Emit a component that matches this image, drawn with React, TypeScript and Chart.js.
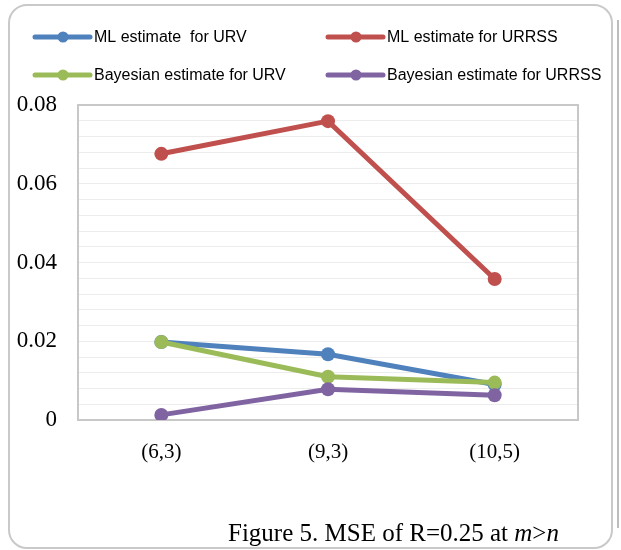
import { useEffect, useRef } from 'react';
import { Chart, registerables } from 'chart.js';

Chart.register(...registerables);

// Sample sizes (m,n)
const categories = ['(6,3)', '(9,3)', '(10,5)'];

// Mean squared error for each estimator
const mlUrv = [0.0198, 0.0167, 0.009];
const mlUrrss = [0.0676, 0.0759, 0.0358];
const bayesUrv = [0.0198, 0.011, 0.0095];
const bayesUrrss = [0.0013, 0.0078, 0.0063];

const seriesNames = [
  'ML estimate  for URV',
  'ML estimate for URRSS',
  'Bayesian estimate for URV',
  'Bayesian estimate for URRSS',
];
const seriesColors = ['#4F81BD', '#C0504D', '#9BBB59', '#8064A2'];

const yTickValues = [0, 0.02, 0.04, 0.06, 0.08];
const yTickLabels = ['0', '0.02', '0.04', '0.06', '0.08'];

const captionParts = [
  { text: 'Figure 5. MSE of R=0.25 at ', italic: false },
  { text: 'm', italic: true },
  { text: '>', italic: false },
  { text: 'n', italic: true },
];

const SERIF = '"Liberation Serif", "Times New Roman", serif';
const SANS = '"Liberation Sans", Arial, sans-serif';

// Outer frame, plot box, legend and caption
const decorPlugin = {
  id: 'decor',
  beforeDatasetsDraw(chart: any) {
    const { ctx, chartArea } = chart;
    ctx.save();
    ctx.strokeStyle = '#c8c8c8';
    ctx.lineWidth = 2;
    ctx.strokeRect(chartArea.left, chartArea.top, chartArea.right - chartArea.left, chartArea.bottom - chartArea.top);
    ctx.restore();
  },
  afterDraw(chart: any) {
    const { ctx } = chart;
    ctx.save();

    // rounded outer border
    ctx.strokeStyle = '#c9c9c9';
    ctx.lineWidth = 2;
    ctx.beginPath();
    ctx.roundRect(9, 5, 603, 543, 18);
    ctx.stroke();

    // neighbouring panel edge
    ctx.strokeStyle = '#bdbdbd';
    ctx.beginPath();
    ctx.moveTo(618, 20);
    ctx.lineTo(618, 528);
    ctx.stroke();

    // legend
    const slots = [
      { x: 35, y: 37 },
      { x: 328, y: 37 },
      { x: 35, y: 75 },
      { x: 328, y: 75 },
    ];
    ctx.font = `16px ${SANS}`;
    ctx.textBaseline = 'middle';
    ctx.textAlign = 'left';
    seriesNames.forEach((name, i) => {
      const { x, y } = slots[i];
      ctx.strokeStyle = seriesColors[i];
      ctx.fillStyle = seriesColors[i];
      ctx.lineWidth = 5;
      ctx.lineCap = 'round';
      ctx.beginPath();
      ctx.moveTo(x, y);
      ctx.lineTo(x + 55, y);
      ctx.stroke();
      ctx.beginPath();
      ctx.arc(x + 28, y, 5.5, 0, Math.PI * 2);
      ctx.fill();
      ctx.fillStyle = '#000';
      ctx.fillText(name, x + 59, y + 1);
    });

    // caption
    ctx.textBaseline = 'alphabetic';
    ctx.fillStyle = '#000';
    let cx = 228;
    captionParts.forEach((p) => {
      ctx.font = `${p.italic ? 'italic ' : ''}25px ${SERIF}`;
      ctx.fillText(p.text, cx, 541);
      cx += ctx.measureText(p.text).width;
    });

    ctx.restore();
  },
};

export default function App() {
  const canvasRef = useRef<HTMLCanvasElement | null>(null);

  useEffect(() => {
    if (!canvasRef.current) return;
    const series = [mlUrv, mlUrrss, bayesUrv, bayesUrrss];
    const chart = new Chart(canvasRef.current, {
      type: 'line',
      data: {
        labels: categories,
        datasets: series.map((values, i) => ({
          label: seriesNames[i],
          data: values,
          borderColor: seriesColors[i],
          backgroundColor: seriesColors[i],
          pointBackgroundColor: seriesColors[i],
          pointBorderColor: seriesColors[i],
          borderWidth: 5,
          pointRadius: 7,
          pointBorderWidth: 0,
          tension: 0,
          fill: false,
          order: 4 - i,
        })),
      },
      options: {
        responsive: false,
        animation: false,
        layout: { padding: { top: 105, right: 43, left: 0, bottom: 0 } },
        plugins: {
          legend: { display: false },
          tooltip: { enabled: false },
        },
        scales: {
          x: {
            type: 'category',
            offset: true,
            grid: { display: false, drawTicks: false },
            border: { display: false },
            ticks: {
              color: '#000',
              padding: 20,
              maxRotation: 0,
              font: { family: SERIF, size: 21 },
            },
            afterFit: (s: any) => {
              s.height = 130;
            },
          },
          y: {
            min: 0,
            max: 0.08,
            grid: { color: '#ececec', lineWidth: 1, drawTicks: false },
            border: { display: false },
            ticks: {
              stepSize: 0.004,
              autoSkip: false,
              color: '#000',
              padding: 21,
              font: { family: SERIF, size: 23 },
              callback: (v: any) => {
                const idx = yTickValues.findIndex((t) => Math.abs(t - Number(v)) < 1e-9);
                return idx >= 0 ? yTickLabels[idx] : '';
              },
            },
            afterFit: (s: any) => {
              s.width = 78;
            },
          },
        },
      },
      plugins: [decorPlugin],
    });
    return () => chart.destroy();
  }, []);

  return (
    <div style={{ position: 'absolute', left: 0, top: 0, width: 621, height: 550, background: '#fff' }}>
      <canvas ref={canvasRef} width={621} height={550} style={{ display: 'block' }} />
    </div>
  );
}
